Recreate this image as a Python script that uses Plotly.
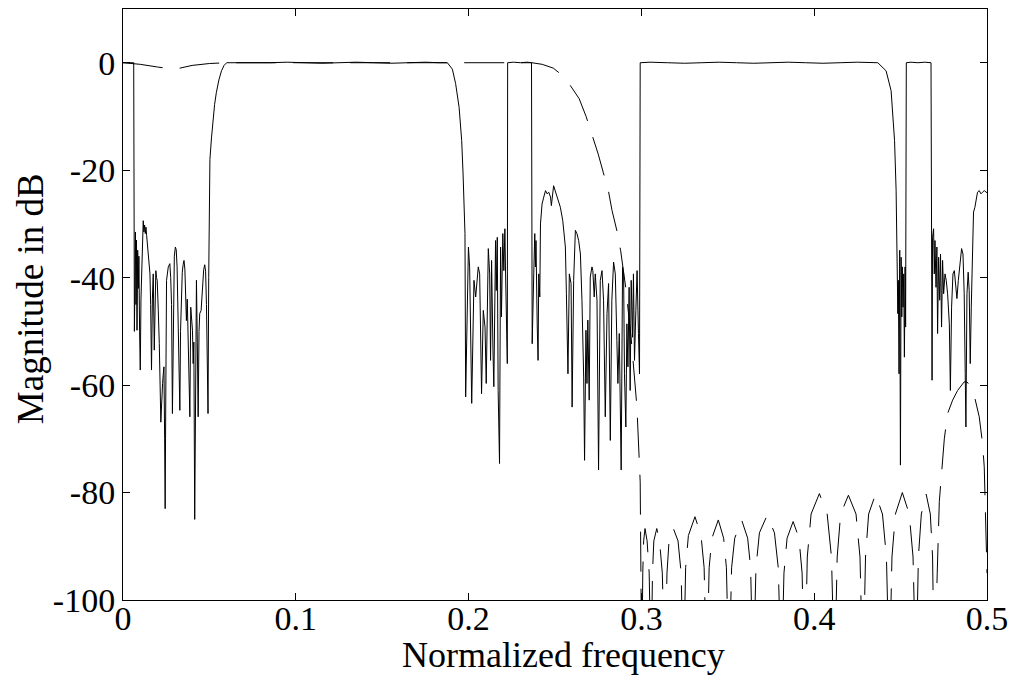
import plotly.graph_objects as go

# ---------------- data ----------------
# Solid curve: overall filter-bank magnitude response (dB)
solid_freq = [
    0.0, 0.002, 0.004, 0.0062, 0.0066,
    0.0069, 0.0072, 0.0075, 0.0078, 0.0081, 0.0085, 0.0089, 0.0092, 0.0096, 0.0100,
    0.0104, 0.0108, 0.0113, 0.0117, 0.0121, 0.0125, 0.0129, 0.0133, 0.0137, 0.0142,
    0.0146, 0.0152, 0.0156, 0.0160, 0.0165, 0.0170, 0.0175, 0.0181, 0.0186, 0.0190,
    0.0194, 0.0198, 0.0204, 0.0210, 0.0219, 0.0224, 0.0229, 0.0233, 0.0237, 0.0241,
    0.0244, 0.0248, 0.0252, 0.0262, 0.0271, 0.0276, 0.0281, 0.0286, 0.0291, 0.0297,
    0.0303, 0.0308, 0.0313, 0.0317, 0.0322, 0.0329, 0.0333, 0.0338, 0.0343, 0.0348,
    0.0353, 0.0358, 0.0363, 0.0367, 0.0372, 0.0377, 0.0382, 0.0387, 0.0392, 0.0397,
    0.0402, 0.0406, 0.0410, 0.0415, 0.0420, 0.0425, 0.0430, 0.0435, 0.0440, 0.0444,
    0.0452, 0.0460, 0.0467, 0.0473, 0.0478, 0.0483, 0.0487, 0.0492, 0.0496, 0.0499,
    0.0503, 0.0512, 0.0521, 0.0530, 0.0540, 0.0555, 0.0570, 0.0585, 0.0600,
    0.065, 0.075, 0.085, 0.095, 0.105, 0.115, 0.125, 0.135, 0.145, 0.155, 0.165,
    0.175, 0.1830, 0.1877, 0.1906, 0.1925, 0.1945, 0.1960, 0.1968, 0.1979,
    0.1983, 0.1999, 0.2006, 0.2018, 0.2031, 0.2041, 0.2056, 0.2064, 0.2075, 0.2085,
    0.2095, 0.2102, 0.2114, 0.2122, 0.2127, 0.2133, 0.2141, 0.2146, 0.2156, 0.2160,
    0.2166, 0.2171, 0.2179, 0.2185, 0.2190, 0.2198, 0.2204, 0.2210, 0.2214, 0.2221,
    0.2224, 0.2226, 0.2260, 0.2300, 0.2340, 0.2364,
    0.2368, 0.2377, 0.2383, 0.2387, 0.2390, 0.2397, 0.2402, 0.2406, 0.2412, 0.2416,
    0.2425, 0.2435, 0.2445, 0.2454, 0.2464, 0.2474, 0.2479, 0.2492, 0.2512, 0.2531,
    0.2545, 0.2560, 0.2566, 0.2575, 0.2583, 0.2593, 0.2599, 0.2608, 0.2618, 0.2627,
    0.2637, 0.2647, 0.2656, 0.2662, 0.2666, 0.2671, 0.2679, 0.2685, 0.2690, 0.2698,
    0.2704, 0.2714, 0.2719, 0.2727, 0.2733, 0.2743, 0.2752, 0.2762, 0.2772, 0.2781,
    0.2791, 0.2801, 0.2810, 0.2820, 0.2829, 0.2839, 0.2849, 0.2858, 0.2864, 0.2872,
    0.2877, 0.2883, 0.2891, 0.2897, 0.2902, 0.2910, 0.2916, 0.2922, 0.2929, 0.2935,
    0.2941, 0.2949, 0.2954, 0.2960, 0.2968, 0.2975, 0.2983, 0.2989, 0.2993,
    0.305, 0.315, 0.325, 0.335, 0.345, 0.355, 0.365, 0.375, 0.385, 0.395, 0.405,
    0.415, 0.425, 0.4368, 0.4416, 0.4445, 0.4465, 0.4474,
    0.4480, 0.4484, 0.4487, 0.4491, 0.4495, 0.4499, 0.4503, 0.4507, 0.4510, 0.4514,
    0.4518, 0.4522, 0.4526, 0.4529, 0.4533, 0.4560, 0.4600, 0.4640, 0.4676,
    0.4682, 0.4685, 0.4691, 0.4695, 0.4699, 0.4705, 0.4710, 0.4714, 0.4720, 0.4726,
    0.4731, 0.4737, 0.4743, 0.4749, 0.4757, 0.4764, 0.4772, 0.4782, 0.4788, 0.4795,
    0.4803, 0.4811, 0.4820, 0.4826, 0.4834, 0.4845, 0.4853, 0.4861, 0.4868, 0.4874,
    0.4878, 0.4884, 0.4891, 0.4897, 0.4903, 0.4909, 0.4914, 0.4922, 0.4930, 0.4938,
    0.4945, 0.4955, 0.4965, 0.4974, 0.4984, 0.5000,
]
solid_db = [
    0.0, 0.0, -0.1, 0.0, -50.0,
    -38.0, -31.5, -45.0, -33.0, -49.8, -34.9, -42.0, -36.0, -50.0, -57.2,
    -44.0, -39.9, -31.0, -29.4, -31.5, -30.2, -31.8, -30.6, -32.2, -34.0,
    -36.2, -37.5, -39.3, -45.0, -57.2, -44.0, -39.3, -53.5, -40.0, -38.7,
    -40.0, -40.5, -46.0, -52.3, -66.9, -62.0, -59.7, -58.0, -56.6, -70.0,
    -83.0, -60.0, -40.5, -38.0, -37.4, -40.0, -45.0, -65.3, -50.0, -36.0,
    -34.3, -34.8, -38.0, -45.0, -55.0, -64.7, -50.0, -43.6, -39.0, -37.6,
    -36.8, -38.4, -42.4, -48.0, -44.0, -53.5, -58.0, -65.9, -45.5, -48.0,
    -49.8, -56.0, -52.0, -85.0, -48.0, -40.5, -52.0, -65.9, -50.0, -46.7,
    -46.1, -42.0, -38.5, -37.6, -38.8, -45.0, -55.0, -65.3, -40.0, -28.0,
    -18.0, -14.0, -10.7, -7.8, -5.6, -3.2, -1.5, -0.5, 0.0,
    0.0, -0.1, 0.0, 0.1, 0.0, -0.1, 0.0, 0.1, 0.0, -0.1, 0.0,
    0.1, 0.0, 0.0, -1.2, -3.9, -8.3, -14.5, -20.7, -31.8,
    -62.2, -34.3, -38.0, -63.4, -40.5, -43.6, -38.0, -39.3, -61.6, -46.1,
    -49.2, -59.7, -34.6, -39.3, -55.4, -36.8, -53.5, -60.3, -33.1, -42.4,
    -32.5, -61.0, -74.6, -34.3, -47.3, -31.8, -38.7, -30.9, -39.3, -56.0,
    -56.0, 0.0, 0.1, 0.0, 0.1, 0.0,
    -52.3, -39.3, -31.8, -38.0, -33.1, -48.6, -55.4, -39.3, -43.6, -30.0,
    -26.3, -25.0, -23.8, -24.4, -24.1, -25.0, -26.6, -22.9, -25.0, -26.9,
    -29.4, -34.3, -43.0, -57.9, -39.3, -41.1, -64.1, -40.5, -31.2, -31.8,
    -33.1, -35.6, -44.2, -50.4, -58.5, -74.0, -49.8, -59.7, -47.9, -62.8,
    -39.9, -38.0, -38.7, -43.6, -39.3, -44.2, -75.8, -40.5, -38.7, -44.2,
    -65.9, -46.7, -41.1, -70.3, -44.2, -37.1, -39.3, -51.7, -59.7, -50.4,
    -65.9, -75.8, -38.0, -39.3, -57.9, -67.8, -48.6, -56.6, -41.8, -61.0,
    -40.5, -51.1, -39.3, -55.4, -46.1, -38.7, -50.4, -57.9, 0.0,
    0.1, 0.0, -0.1, 0.0, 0.1, 0.0, -0.1, 0.0, 0.1, 0.0, -0.1,
    0.0, 0.1, 0.0, -1.5, -5.2, -14.5, -23.8,
    -38.7, -46.7, -40.5, -57.9, -34.9, -74.9, -36.2, -47.3, -38.0, -45.5,
    -39.3, -54.8, -38.0, -49.2, 0.0, 0.1, 0.0, 0.1, 0.0,
    -59.1, -32.5, -30.9, -39.3, -33.1, -41.8, -34.3, -50.4, -36.2, -44.2,
    -35.6, -49.2, -36.8, -43.0, -39.3, -40.5, -43.0, -48.6, -61.0, -45.5,
    -39.3, -38.7, -41.8, -43.9, -40.5, -36.2, -34.6, -35.6, -43.0, -57.9,
    -67.8, -43.0, -39.0, -42.4, -56.0, -45.5, -35.6, -27.8, -26.9, -25.0,
    -24.1, -23.8, -24.4, -24.1, -23.8, -24.2,
]

# Dashed curve: prototype lowpass filter magnitude response (dB)
dashed_freq = [
    0.0, 0.010, 0.020, 0.027, 0.033, 0.040, 0.050, 0.060, 0.100, 0.150, 0.200,
    0.2366, 0.2426, 0.2490, 0.2540, 0.2590, 0.2640, 0.2680, 0.2720, 0.2750, 0.2780,
    0.2810, 0.2830, 0.2860, 0.2880, 0.2910, 0.2940, 0.2974, 0.2993, 0.3002,
    0.3008, 0.3013, 0.3021, 0.3033, 0.3045, 0.3056,
    0.3064, 0.3072, 0.3089, 0.3105, 0.3121, 0.3137,
    0.3148, 0.3160, 0.3185, 0.3212, 0.3230, 0.3243,
    0.3256, 0.3272, 0.3310, 0.3345, 0.3363, 0.3378,
    0.3392, 0.3408, 0.3445, 0.3476, 0.3492, 0.3507,
    0.3522, 0.3540, 0.3580, 0.3615, 0.3632, 0.3647,
    0.3663, 0.3683, 0.3728, 0.3770, 0.3792, 0.3810,
    0.3825, 0.3843, 0.3878, 0.3912, 0.3930, 0.3945,
    0.3960, 0.3982, 0.4030, 0.4075, 0.4100, 0.4118,
    0.4133, 0.4153, 0.4198, 0.4242, 0.4265, 0.4282,
    0.4297, 0.4315, 0.4355, 0.4395, 0.4418, 0.4435,
    0.4450, 0.4470, 0.4510, 0.4550, 0.4572, 0.4589,
    0.4603, 0.4620, 0.4648, 0.4672, 0.4685, 0.4695,
    0.4712, 0.4724, 0.4753, 0.4772, 0.4801, 0.4830, 0.4868, 0.4884, 0.4905,
    0.4926, 0.4955, 0.4974, 0.4984, 0.4995, 0.5000,
]
dashed_db = [
    0.0, -0.3, -0.8, -1.1, -1.0, -0.5, -0.15, 0.0, 0.0, 0.0, 0.0,
    0.0, -0.3, -1.0, -2.3, -4.3, -6.7, -10.0, -14.0, -17.0, -20.5,
    -24.0, -27.5, -31.5, -35.0, -42.0, -51.0, -64.0, -78.0, -115.0,
    -95.0, -89.0, -86.7, -89.0, -95.0, -115.0,
    -95.0, -89.0, -86.7, -89.0, -95.0, -115.0,
    -95.0, -89.0, -86.7, -89.0, -95.0, -115.0,
    -94.0, -88.0, -84.5, -88.0, -94.0, -115.0,
    -94.0, -88.5, -85.1, -88.5, -94.0, -115.0,
    -94.0, -88.5, -85.1, -88.5, -94.0, -115.0,
    -94.0, -87.5, -84.2, -87.5, -94.0, -115.0,
    -95.0, -88.5, -85.4, -88.5, -95.0, -115.0,
    -92.0, -84.0, -80.2, -84.0, -92.0, -115.0,
    -92.0, -84.0, -80.5, -84.0, -92.0, -115.0,
    -92.0, -84.0, -80.3, -84.0, -92.0, -115.0,
    -92.0, -84.0, -80.0, -84.0, -92.0, -115.0,
    -92.0, -84.0, -80.3, -84.0, -92.0, -115.0,
    -95.0, -81.7, -70.0, -65.3, -62.8, -61.0, -59.4, -59.4, -60.3,
    -61.9, -65.9, -70.8, -75.2, -86.0, -95.0,
]

x_tick_vals = [0, 0.1, 0.2, 0.3, 0.4, 0.5]
x_tick_text = ["0", "0.1", "0.2", "0.3", "0.4", "0.5"]
y_tick_vals = [-100, -80, -60, -40, -20, 0]
y_tick_text = ["-100", "-80", "-60", "-40", "-20", "0"]

x_label = "Normalized frequency"
y_label = "Magnitude in dB"

# ---------------- figure ----------------
FONT = "Liberation Serif, Times New Roman, serif"

fig = go.Figure()
fig.add_trace(go.Scatter(
    x=dashed_freq, y=dashed_db, mode="lines",
    line=dict(color="black", width=1, dash="40px,17px"),
    hoverinfo="skip",
))
fig.add_trace(go.Scatter(
    x=solid_freq, y=solid_db, mode="lines",
    line=dict(color="black", width=1),
    hoverinfo="skip",
))

axis_common = dict(
    showgrid=False, zeroline=False, showline=True, linecolor="black",
    linewidth=1, mirror="ticks", ticks="inside", ticklen=7,
    tickcolor="black", tickwidth=1,
    tickfont=dict(family=FONT, size=34, color="black"),
)
fig.update_xaxes(range=[0, 0.5], tickmode="array", tickvals=x_tick_vals,
                 ticktext=x_tick_text, ticklabelstandoff=-12, **axis_common)
fig.update_yaxes(range=[-100, 10], tickmode="array", tickvals=y_tick_vals,
                 ticktext=y_tick_text, **axis_common)

fig.update_layout(
    width=1016, height=680,
    margin=dict(l=123, r=26, t=8, b=80),
    plot_bgcolor="white", paper_bgcolor="white",
    showlegend=False,
    font=dict(family=FONT, size=34, color="black"),
    annotations=[
        dict(text=x_label, xref="paper", yref="paper", x=0.51, y=-0.093,
             xanchor="center", yanchor="middle", showarrow=False,
             font=dict(family=FONT, size=36, color="black")),
        dict(text=y_label, xref="paper", yref="paper", x=-0.107, y=0.51,
             xanchor="center", yanchor="middle", showarrow=False, textangle=-90,
             font=dict(family=FONT, size=37, color="black")),
    ],
)

fig.write_html("out.html")
